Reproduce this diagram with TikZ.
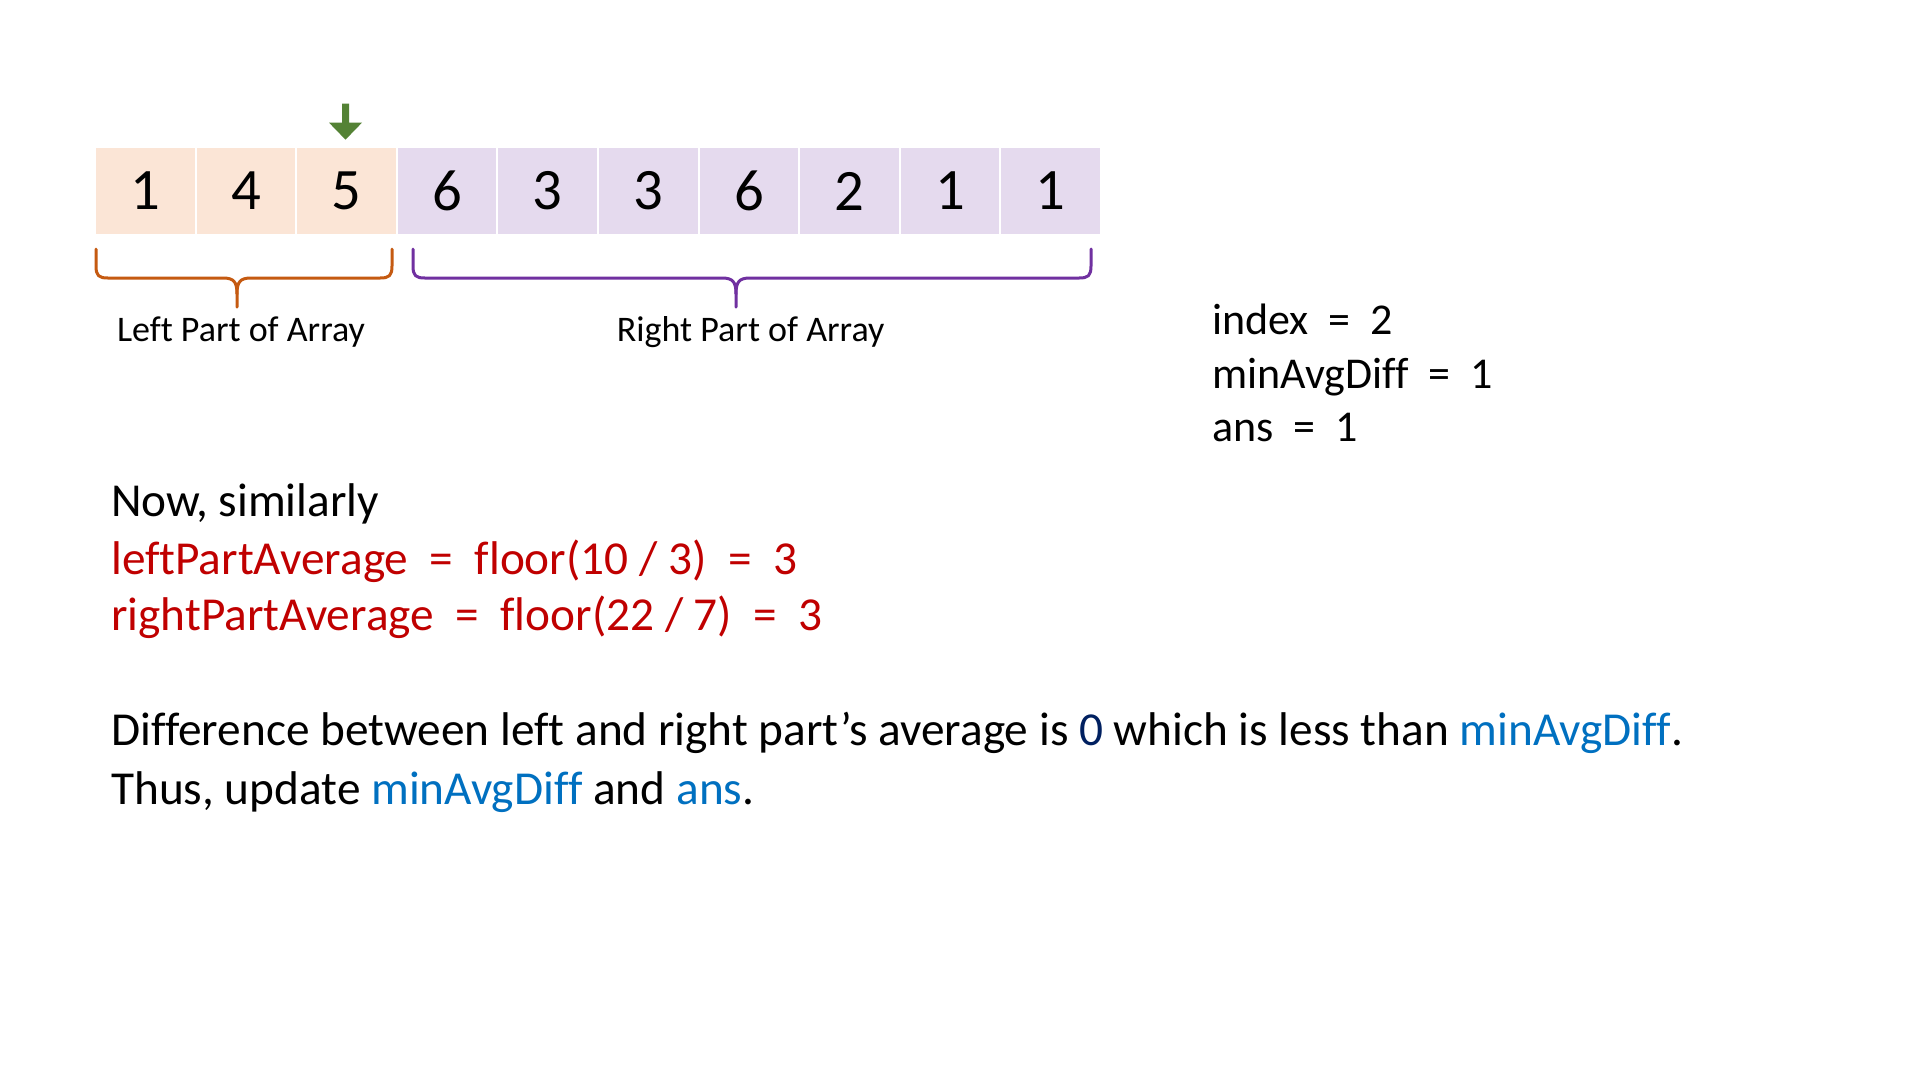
\documentclass[tikz,border=0pt]{standalone}
\usepackage{fontspec}
\setmainfont{Carlito}[Ligatures=CommonOff]
\definecolor{cellL}{HTML}{FBE5D6}
\definecolor{cellR}{HTML}{E5DAEE}
\definecolor{braceL}{HTML}{C55A11}
\definecolor{braceR}{HTML}{7030A0}
\definecolor{arrowG}{HTML}{548235}
\definecolor{redT}{HTML}{C00000}
\definecolor{blueT}{HTML}{0070C0}
\definecolor{navyT}{HTML}{002060}
\tikzset{
  cell/.style={minimum width=98.6pt, minimum height=86.3pt, inner sep=0pt, draw=none,
    font=\fontsize{58.7}{70}\selectfont},
  lcell/.style={cell, fill=cellL},
  rcell/.style={cell, fill=cellR},
  bracel/.style={line width=3pt, line cap=round, line join=round},
  lbl/.style={font=\fontsize{36}{43}\selectfont, inner sep=0pt, anchor=base},
  sidetxt/.style={font=\fontsize{44}{52}\selectfont, inner sep=0pt, anchor=base west},
  maintxt/.style={font=\fontsize{47.3}{57}\selectfont, inner sep=0pt, anchor=base west},
}
\begin{document}
\begin{tikzpicture}[x=1pt,y=-1pt]
\useasboundingbox (0,0) rectangle (1920,1080);
\fill[white] (0,0) rectangle (1920,1080);
% cells
\foreach \v [count=\i from 0] in {1,4,5,6,3,3,6,2,1,1}{
  \pgfmathsetmacro{\cx}{95+100.6*(\i+0.5)}
  \ifnum\i<3
    \node[lcell] (c\i) at (\cx,191) {\v};
  \else
    \node[rcell] (c\i) at (\cx,191) {\v};
  \fi
}
% green pointer arrow
\coordinate (ptr) at ([xshift=-1pt]c2.north);
\fill[arrowG] ([xshift=-3.5pt,yshift=44pt]ptr) -- ([xshift=3.5pt,yshift=44pt]ptr)
  -- ([xshift=3.5pt,yshift=25pt]ptr) -- ([xshift=16.5pt,yshift=25pt]ptr)
  -- ([yshift=8pt]ptr) -- ([xshift=-16.5pt,yshift=25pt]ptr)
  -- ([xshift=-3.5pt,yshift=25pt]ptr) -- cycle;
% left brace
\draw[bracel, braceL] (96,249) -- (96,266) .. controls (96,276) and (99,278) .. (108,278)
  -- (223,278) .. controls (234,278) and (237,282) .. (237,294) -- (237,307);
\draw[bracel, braceL] (392,249) -- (392,266) .. controls (392,276) and (389,278) .. (380,278)
  -- (251,278) .. controls (240,278) and (237,282) .. (237,294);
% right brace
\draw[bracel, braceR] (413,249) -- (413,266) .. controls (413,276) and (416,278) .. (425,278)
  -- (722,278) .. controls (733,278) and (736,282) .. (736,294) -- (736,307);
\draw[bracel, braceR] (1091,249) -- (1091,266) .. controls (1091,276) and (1088,278) .. (1079,278)
  -- (750,278) .. controls (739,278) and (736,282) .. (736,294);
% labels
\node[lbl] (lleft) at (241,341.6) {Left Part of Array};
\node[lbl] (lright) at (750.6,341.6) {Right Part of Array};
% side variables
\node[sidetxt] (vidx) at (1212,334) {index\ \ =\ \ 2};
\node[sidetxt] (vmin) at (1212,388) {minAvgDiff\ \ =\ \ 1};
\node[sidetxt] (vans) at (1212,441) {ans\ \ =\ \ 1};
% main text
\node[maintxt] (t1) at (111,516.7) {Now, similarly};
\node[maintxt, text=redT] (t2) at (111,574) {leftPartAverage\ \ =\ \ floor(10 / 3)\ \ =\ \ 3};
\node[maintxt, text=redT] (t3) at (111,630.6) {rightPartAverage\ \ =\ \ floor(22 / 7)\ \ =\ \ 3};
\node[maintxt] (t4) at (111,745.7) {Difference between left and right part’s average is \textcolor{navyT}{0} which is less than \textcolor{blueT}{minAvgDiff}.};
\node[maintxt] (t5) at (111,804.5) {Thus, update \textcolor{blueT}{minAvgDiff} and \textcolor{blueT}{ans}.};
\end{tikzpicture}
\end{document}
